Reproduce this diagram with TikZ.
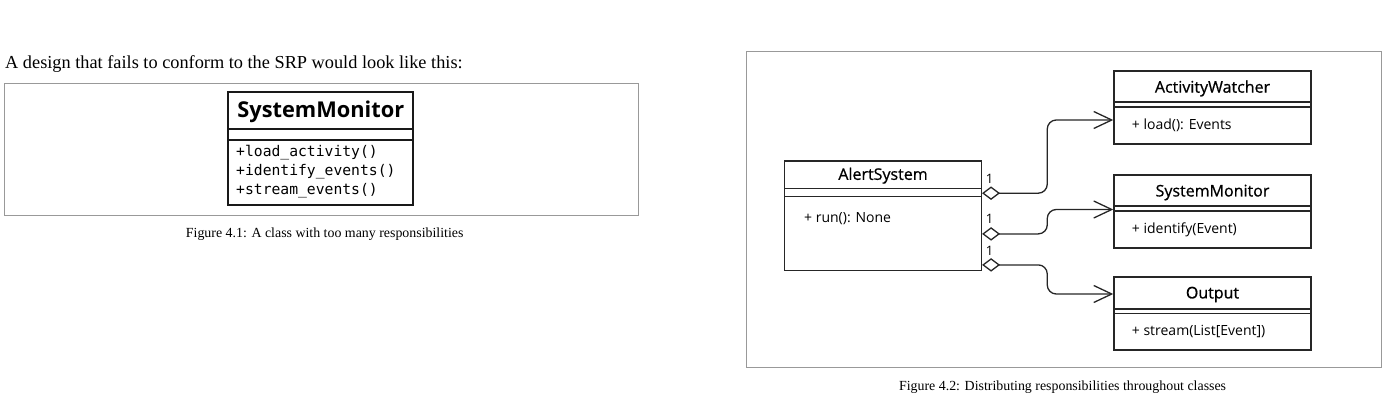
\documentclass[tikz,border=0pt]{standalone}
\usepackage{fontspec}
\usepackage{tikz}
\usetikzlibrary{arrows.meta}
\setmainfont{Liberation Serif}
\newfontfamily\uisans{Open Sans}
\newfontfamily\uititle[FakeBold=0.8]{Open Sans}
\newfontfamily\uimono{DejaVu Sans Mono}

\begin{document}
\begin{tikzpicture}[x=1pt,y=-1pt,
  panel/.style={draw=black!40, line width=1pt},
  classbox/.style={draw=black!85, line width=1.5pt, inner sep=0pt, minimum width=197pt, minimum height=73pt},
  bigbox/.style={draw=black!90, line width=2.2pt, inner sep=0pt},
  sepline/.style={draw=black!85, line width=1.5pt},
  classname/.style={inner sep=0pt, font=\uititle\fontsize{16}{19}\selectfont},
  opname/.style={inner sep=0pt, anchor=west, font=\uisans\fontsize{14}{17}\selectfont},
  mult/.style={inner sep=0pt, font=\uisans\fontsize{13}{15}\selectfont},
  caption/.style={inner sep=0pt, font=\fontsize{13.9}{16}\selectfont},
  assoc/.style={draw=black!85, line width=1.3pt, rounded corners=9pt,
    {Diamond[open,length=18pt,width=13.5pt]}-{Straight Barb[length=18pt,width=17pt]}}]
\useasboundingbox (0,0) rectangle (1400,420);

% left figure
\node[inner sep=0pt, anchor=base west, font=\fontsize{18.3}{21}\selectfont] (intro) at (5,68) {A design that fails to conform to the SRP would look like this:};
\draw[panel] (4,83.3) rectangle (638,215.5);
\node[bigbox, minimum width=185pt, minimum height=112.7pt] (sysmon) at (320.8,148.7) {};
\node[inner sep=0pt, font=\uisans\bfseries\fontsize{21.8}{24}\selectfont] (sysmonname) at (320.8,111.7) {SystemMonitor};
\draw[bigbox] (228.3,129) -- (413.3,129);
\draw[bigbox] (228.3,140) -- (413.3,140);
\node[inner sep=0pt, anchor=west, align=left, font=\uimono\fontsize{14.7}{19.2}\selectfont] (sysmonops) at (236,171.8) {+load\_activity()\\+identify\_events()\\+stream\_events()};
\node[caption] (cap1) at (324.7,234.3) {Figure 4.1: A class with too many responsibilities};

% right figure
\draw[panel] (746,52) rectangle (1381,367.7);
\node[classbox, minimum width=196.6pt, minimum height=109.7pt] (alert) at (883,215.8) {};
\node[classname] (alertname) at (883,175.7) {AlertSystem};
\draw[sepline] (784.7,188.7) -- (981.3,188.7);
\draw[sepline] (784.7,196.3) -- (981.3,196.3);
\node[opname] (alertop) at (804,218.3) {+ run(): None};

\node[classbox] (watcher) at (1212.5,107.5) {};
\node[classname] (watchername) at (1212.5,88.5) {ActivityWatcher};
\draw[sepline] (1114,102) -- (1311,102);
\draw[sepline] (1114,107) -- (1311,107);
\node[opname] (watcherop) at (1131.7,125.5) {+ load(): Events};

\node[classbox] (monitor) at (1212.5,211.5) {};
\node[classname] (monitorname) at (1212.5,192.5) {SystemMonitor};
\draw[sepline] (1114,206) -- (1311,206);
\draw[sepline] (1114,211) -- (1311,211);
\node[opname] (monitorop) at (1131.7,229.5) {+ identify(Event)};

\node[classbox] (output) at (1212.5,313.5) {};
\node[classname] (outputname) at (1212.5,294.5) {Output};
\draw[sepline] (1114,309) -- (1311,309);
\draw[sepline] (1114,313.5) -- (1311,313.5);
\node[opname] (outputop) at (1131.7,331.5) {+ stream(List[Event])};

\draw[assoc] ([yshift=-33pt]alert.north east) -| ([xshift=-66pt,yshift=-12.5pt]watcher.west) -- ([yshift=-12.5pt]watcher.west);
\draw[assoc] ([yshift=-73.7pt]alert.north east) -| ([xshift=-66pt,yshift=2pt]monitor.west) -- ([yshift=2pt]monitor.west);
\draw[assoc] ([yshift=-104.7pt]alert.north east) -| ([xshift=-66pt,yshift=19.5pt]output.west) -- ([yshift=19.5pt]output.west);

\node[mult] (mult1) at (989.5,179) {1};
\node[mult] (mult2) at (989.5,219) {1};
\node[mult] (mult3) at (989.5,250.7) {1};

\node[caption] (cap2) at (1062.6,386.7) {Figure 4.2: Distributing responsibilities throughout classes};

\end{tikzpicture}
\end{document}
